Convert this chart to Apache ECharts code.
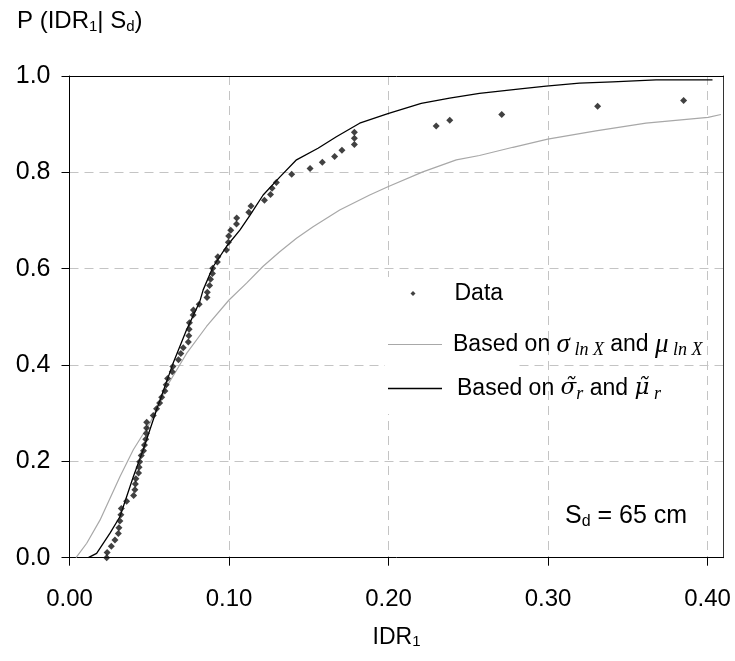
<!DOCTYPE html>
<html><head><meta charset="utf-8">
<script src="https://cdn.jsdelivr.net/npm/echarts@6/dist/echarts.min.js"></script>
<style>html,body{margin:0;padding:0;background:#fff}#c{width:735px;height:661px}</style>
</head><body><div id="c"></div>
<script>
// Empirical data points (IDR1, P)
const dataX = [0.0233,0.0236,0.0262,0.0285,0.0306,0.0310,0.0316,0.0322,0.0325,0.0358,0.0402,0.0410,0.0413,0.0416,0.0433,0.0436,0.0440,0.0450,0.0464,0.0470,0.0478,0.0482,0.0483,0.0484,0.0525,0.0546,0.0565,0.0578,0.0598,0.0606,0.0615,0.0644,0.0648,0.0683,0.0698,0.0713,0.0745,0.0748,0.0750,0.0752,0.0775,0.0777,0.0813,0.0862,0.0864,0.0878,0.0884,0.0896,0.0898,0.0927,0.0930,0.0984,0.0996,0.0998,0.1011,0.1047,0.1048,0.1124,0.1138,0.1222,0.1260,0.1270,0.1297,0.1393,0.1508,0.1585,0.1662,0.1708,0.1786,0.1786,0.1786,0.2299,0.2384,0.2710,0.3311,0.3850];
const dataP = [0.000,0.011,0.024,0.037,0.050,0.062,0.076,0.089,0.102,0.117,0.129,0.141,0.153,0.164,0.176,0.188,0.199,0.212,0.222,0.234,0.246,0.258,0.269,0.281,0.295,0.309,0.321,0.333,0.346,0.359,0.372,0.386,0.397,0.411,0.424,0.436,0.448,0.461,0.474,0.488,0.504,0.514,0.526,0.540,0.551,0.565,0.578,0.590,0.601,0.614,0.625,0.639,0.655,0.668,0.680,0.693,0.705,0.717,0.730,0.742,0.754,0.767,0.779,0.796,0.808,0.821,0.833,0.846,0.858,0.871,0.883,0.896,0.908,0.920,0.937,0.949];
// Curve based on sigma_lnX and mu_lnX (gray)
const grayX = [0.0041,0.0108,0.0191,0.0316,0.0400,0.0504,0.0609,0.0734,0.0859,0.1000,0.1110,0.1214,0.1318,0.1423,0.1527,0.1694,0.1882,0.1996,0.2215,0.2425,0.2570,0.2780,0.2998,0.3300,0.3614,0.4003,0.4084];
const grayP = [0.000,0.030,0.078,0.168,0.224,0.279,0.355,0.424,0.480,0.535,0.570,0.605,0.635,0.663,0.687,0.722,0.753,0.770,0.801,0.826,0.835,0.852,0.869,0.886,0.902,0.914,0.920];
// Curve based on tilde sigma_r and tilde mu_r (black)
const blackX = [0.0118,0.0170,0.0254,0.0316,0.0400,0.0462,0.0546,0.0650,0.0734,0.0817,0.0838,0.0900,0.0984,0.1068,0.1130,0.1214,0.1318,0.1423,0.1558,0.1673,0.1819,0.1996,0.2205,0.2383,0.2570,0.2840,0.2988,0.3197,0.3405,0.3677,0.4031];
const blackP = [0.000,0.009,0.051,0.085,0.168,0.224,0.307,0.404,0.473,0.532,0.556,0.604,0.646,0.680,0.710,0.753,0.790,0.826,0.850,0.874,0.902,0.922,0.943,0.954,0.964,0.974,0.979,0.985,0.988,0.992,0.992];
const xTicks = [0, 0.1, 0.2, 0.3, 0.4];

const zip = (a, b) => a.map((v, i) => [v, b[i]]);
const FONT = 'Liberation Sans, Arial, Helvetica, sans-serif';
const SERIF = 'DejaVu Serif, Liberation Serif, serif';
const SERIF2 = 'Liberation Serif, Times New Roman, serif';
const baseRich = {
  t: {fontFamily: FONT, fontSize: 23, color: '#000'},
  g: {fontFamily: SERIF2, fontStyle: 'italic', fontSize: 27, color: '#000'},
  gt: {fontFamily: SERIF, fontStyle: 'italic', fontSize: 23, color: '#000'},
  sub: {fontFamily: SERIF2, fontStyle: 'italic', fontSize: 18, color: '#000', padding: [12, 0, 0, 0]},
  sp6: {width: 6}, sp10: {width: 10}, sp34: {width: 34}
};
const legendText = {
  'Data': '{sp34|}{t|Data}',
  'gray': '{sp6|}{t|Based on }{g|σ}{sub| ln X}{t| and }{g|μ}{sub| ln X}',
  'black': '{sp10|}{t|Based on }{gt|σ̃}{sub|r}{t| and }{gt|μ̃}{sub| r}'
};
const chart = echarts.init(document.getElementById('c'));
chart.setOption({
  animation: false,
  backgroundColor: '#fff',
  title: {
    text: '{a|P (IDR}{s|1}{a|| S}{s|d}{a|)}',
    left: 12, top: 4,
    textStyle: {fontWeight: 'normal', rich: {
      a: {fontFamily: FONT, fontSize: 24, fontWeight: 'normal', color: '#000'},
      s: {fontFamily: FONT, fontSize: 15, fontWeight: 'normal', color: '#000', padding: [10, 0, 0, 0]}
    }}
  },
  grid: {left: 69.5, right: 11.5, top: 76, bottom: 103.3, show: false, outerBoundsMode: 'none', containLabel: false},
  xAxis: [{
    type: 'value', min: 0, max: 0.41, interval: 0.1,
    name: '{a|IDR}{s|1}', nameLocation: 'middle', nameGap: 67,
    nameTextStyle: {rich: {
      a: {fontFamily: FONT, fontSize: 23, color: '#000'},
      s: {fontFamily: FONT, fontSize: 15, color: '#000', padding: [10, 0, 0, 0]}
    }},
    axisLine: {onZero: false, lineStyle: {color: '#000', width: 1}},
    axisTick: {show: true, length: 8, inside: false, lineStyle: {color: '#000'}, customValues: xTicks},
    axisLabel: {fontFamily: FONT, fontSize: 24, color: '#000', margin: 30, formatter: v => v.toFixed(2), customValues: xTicks},
    splitLine: {show: true, lineStyle: {color: '#c4c4c4', type: [9, 6], width: 1}}
  }, {
    type: 'value', position: 'top', min: 0, max: 0.41,
    axisLine: {show: true, onZero: false, lineStyle: {color: '#000', width: 1}},
    axisTick: {show: false}, axisLabel: {show: false}, splitLine: {show: false}
  }],
  yAxis: [{
    type: 'value', min: 0, max: 1, interval: 0.2,
    axisLine: {show: true, onZero: false, lineStyle: {color: '#000', width: 1}},
    axisTick: {show: true, length: 8, inside: false, lineStyle: {color: '#000'}},
    axisLabel: {fontFamily: FONT, fontSize: 25, color: '#000', margin: 19, formatter: v => v.toFixed(1)},
    splitLine: {show: true, lineStyle: {color: '#c4c4c4', type: [9, 6], width: 1}}
  }, {
    type: 'value', position: 'right', min: 0, max: 1,
    axisLine: {show: true, onZero: false, lineStyle: {color: '#333', width: 1}},
    axisTick: {show: false}, axisLabel: {show: false}, splitLine: {show: false}
  }],
  legend: [
    {data: ['Data'], left: 385, top: 277, padding: [5, 15, 109, 25.5], backgroundColor: '#fff',
     icon: 'diamond', itemWidth: 5, itemHeight: 5, formatter: n => legendText[n], textStyle: {rich: baseRich}, z: 4},
    {data: ['gray'], left: 388, top: 331, padding: 0, icon: 'rect', itemWidth: 54, itemHeight: 1.2,
     formatter: n => legendText[n], textStyle: {rich: baseRich}, z: 5},
    {data: ['black'], left: 388, top: 377, padding: 0, icon: 'rect', itemWidth: 54, itemHeight: 1.3,
     formatter: n => legendText[n], textStyle: {rich: baseRich}, z: 5}
  ],
  graphic: [{
    type: 'text', left: 565, top: 504, z: 10,
    style: {
      text: '{a|S}{s|d}{a| = 65 cm}',
      rich: {
        a: {fontFamily: FONT, fontSize: 25, fill: '#000'},
        s: {fontFamily: FONT, fontSize: 16, fill: '#000', padding: [10, 0, 0, 0]}
      }
    }
  }],
  series: [
    {name: 'gray', type: 'line', data: zip(grayX, grayP), symbol: 'none', smooth: false,
     lineStyle: {color: '#a8a8a8', width: 1.2}, itemStyle: {color: '#a8a8a8'}, z: 2},
    {name: 'black', type: 'line', data: zip(blackX, blackP), symbol: 'none', smooth: false,
     lineStyle: {color: '#000', width: 1.3}, itemStyle: {color: '#000'}, z: 3},
    {name: 'Data', type: 'scatter', data: zip(dataX, dataP), symbol: 'diamond', symbolSize: 7,
     itemStyle: {color: '#111'}, z: 4}
  ]
});
</script></body></html>
